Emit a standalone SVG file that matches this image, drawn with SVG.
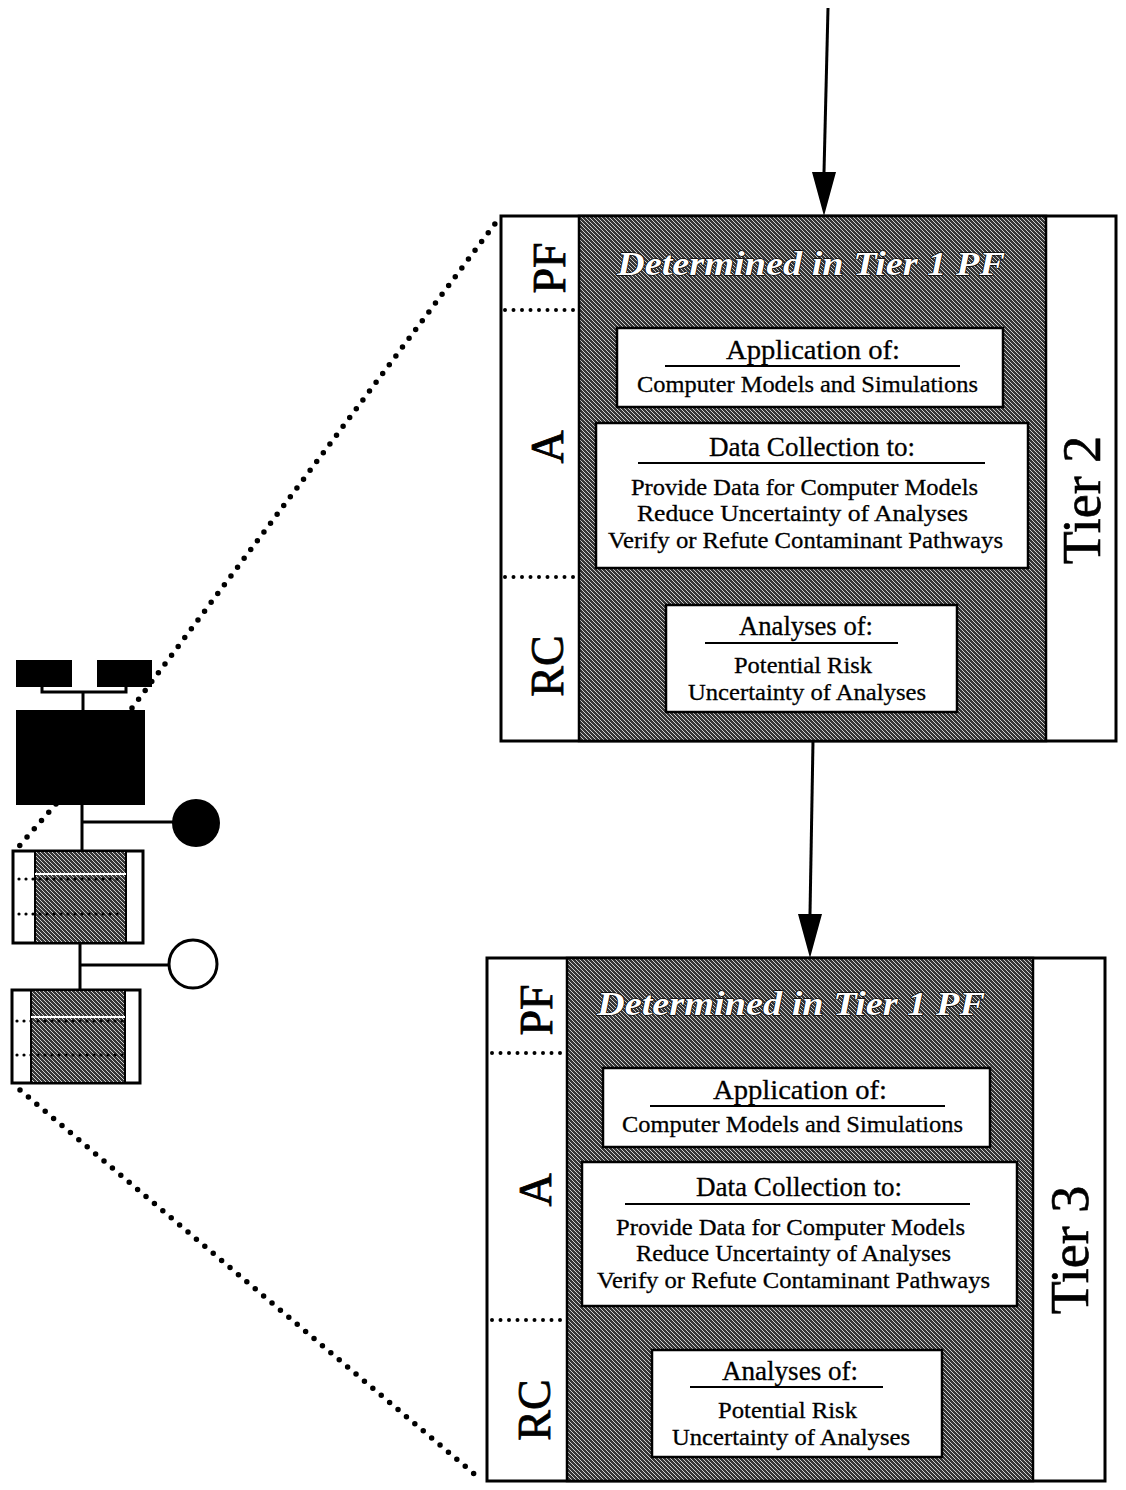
<svg xmlns="http://www.w3.org/2000/svg" width="1126" height="1490" viewBox="0 0 1126 1490">
<defs>
<pattern id="hatch" width="4" height="4" patternUnits="userSpaceOnUse">
<rect width="4" height="4" fill="#363636"/>
<path d="M-1,-1 l2,2 M0,0 l4,4 M3,3 l2,2" stroke="#cfcfcf" stroke-width="1"/>
</pattern>
</defs>
<style>
.outer{fill:#fff;stroke:#000;stroke-width:3}
.shade{fill:url(#hatch);stroke:#000;stroke-width:2.5}
.inner{fill:#fff;stroke:#000;stroke-width:2.5}
.ul{stroke:#000;stroke-width:2}
.dots{stroke:#000;stroke-width:4;stroke-linecap:round;stroke-dasharray:0 8.5;fill:none}
.bigdots{stroke:#000;stroke-width:5.5;stroke-linecap:round;stroke-dasharray:0 11;fill:none}
.smalldots{stroke:#000;stroke-width:3.2;stroke-linecap:round;stroke-dasharray:0 7;fill:none}
.t{font-family:"Liberation Serif",serif;fill:#000;stroke:#000;stroke-width:0.3}
.title{font-size:27px}
.body{font-size:24px}
.lab{font-size:46px;text-anchor:middle;stroke-width:0.8}
.tier{font-size:54px;text-anchor:middle;stroke-width:0.6}
.det{font-family:"Liberation Serif",serif;font-style:italic;font-weight:bold;font-size:34px;fill:#fff;stroke:#000;stroke-width:1.4;paint-order:stroke}
.line{stroke:#000;stroke-width:3;fill:none}
</style>

<g id="connectors">
<line x1="828" y1="8" x2="824" y2="172" class="line"/>
<path d="M812,172 L836,172 L824,216 Z" fill="#000"/>
<line x1="813" y1="741" x2="810" y2="914" class="line"/>
<path d="M798,914 L822,914 L810,958 Z" fill="#000"/>
<line x1="132" y1="708" x2="500" y2="217" class="bigdots"/>
<line x1="56" y1="804" x2="14" y2="852" class="bigdots"/>
<line x1="20" y1="1090" x2="479" y2="1478" class="bigdots"/>
</g>

<g id="tier2">
<rect x="501" y="216" width="615" height="525" class="outer"/>
<rect x="579" y="216" width="467" height="525" class="shade"/>
<line x1="505" y1="310" x2="578" y2="310" class="dots"/>
<line x1="505" y1="577" x2="578" y2="577" class="dots"/>
<text class="t lab" transform="translate(565,268) rotate(-90)">PF</text>
<text class="t lab" transform="translate(563,447) rotate(-90)">A</text>
<text class="t lab" transform="translate(563,666) rotate(-90)">RC</text>
<text class="t tier" transform="translate(1100,500) rotate(-90)">Tier 2</text>
<text class="det" x="617" y="275" textLength="388" lengthAdjust="spacingAndGlyphs">Determined in Tier 1 PF</text>
<g id="t2-app">
<rect x="617" y="328" width="386" height="79" class="inner"/>
<text class="t title" x="726" y="359" textLength="174" lengthAdjust="spacingAndGlyphs">Application of:</text>
<line x1="665" y1="366" x2="960" y2="366" class="ul"/>
<text class="t body" x="637" y="392" textLength="341" lengthAdjust="spacingAndGlyphs">Computer Models and Simulations</text>
</g>
<g id="t2-data">
<rect x="596" y="423" width="432" height="145" class="inner"/>
<text class="t title" x="709" y="456" textLength="206" lengthAdjust="spacingAndGlyphs">Data Collection to:</text>
<line x1="638" y1="463" x2="985" y2="463" class="ul"/>
<text class="t body" x="631" y="495" textLength="347" lengthAdjust="spacingAndGlyphs">Provide Data for Computer Models</text>
<text class="t body" x="637" y="521" textLength="331" lengthAdjust="spacingAndGlyphs">Reduce Uncertainty of Analyses</text>
<text class="t body" x="608" y="548" textLength="395" lengthAdjust="spacingAndGlyphs">Verify or Refute Contaminant Pathways</text>
</g>
<g id="t2-rc">
<rect x="666" y="605" width="291" height="107" class="inner"/>
<text class="t title" x="739" y="635" textLength="134" lengthAdjust="spacingAndGlyphs">Analyses of:</text>
<line x1="705" y1="643" x2="898" y2="643" class="ul"/>
<text class="t body" x="734" y="673" textLength="138" lengthAdjust="spacingAndGlyphs">Potential Risk</text>
<text class="t body" x="688" y="700" textLength="238" lengthAdjust="spacingAndGlyphs">Uncertainty of Analyses</text>
</g>
</g>

<g id="tier3">
<rect x="487" y="958" width="618" height="523" class="outer"/>
<rect x="567" y="958" width="466" height="523" class="shade"/>
<line x1="492" y1="1053" x2="566" y2="1053" class="dots"/>
<line x1="492" y1="1320" x2="566" y2="1320" class="dots"/>
<text class="t lab" transform="translate(552,1010) rotate(-90)">PF</text>
<text class="t lab" transform="translate(551,1190) rotate(-90)">A</text>
<text class="t lab" transform="translate(550,1410) rotate(-90)">RC</text>
<text class="t tier" transform="translate(1088,1250) rotate(-90)">Tier 3</text>
<text class="det" x="597" y="1015" textLength="388" lengthAdjust="spacingAndGlyphs">Determined in Tier 1 PF</text>
<g id="t3-app">
<rect x="603" y="1068" width="387" height="79" class="inner"/>
<text class="t title" x="713" y="1099" textLength="174" lengthAdjust="spacingAndGlyphs">Application of:</text>
<line x1="650" y1="1106" x2="945" y2="1106" class="ul"/>
<text class="t body" x="622" y="1132" textLength="341" lengthAdjust="spacingAndGlyphs">Computer Models and Simulations</text>
</g>
<g id="t3-data">
<rect x="582" y="1162" width="435" height="144" class="inner"/>
<text class="t title" x="696" y="1196" textLength="206" lengthAdjust="spacingAndGlyphs">Data Collection to:</text>
<line x1="625" y1="1204" x2="970" y2="1204" class="ul"/>
<text class="t body" x="616" y="1235" textLength="349" lengthAdjust="spacingAndGlyphs">Provide Data for Computer Models</text>
<text class="t body" x="636" y="1261" textLength="315" lengthAdjust="spacingAndGlyphs">Reduce Uncertainty of Analyses</text>
<text class="t body" x="597" y="1288" textLength="393" lengthAdjust="spacingAndGlyphs">Verify or Refute Contaminant Pathways</text>
</g>
<g id="t3-rc">
<rect x="652" y="1350" width="290" height="107" class="inner"/>
<text class="t title" x="722" y="1380" textLength="136" lengthAdjust="spacingAndGlyphs">Analyses of:</text>
<line x1="690" y1="1387" x2="883" y2="1387" class="ul"/>
<text class="t body" x="718" y="1418" textLength="139" lengthAdjust="spacingAndGlyphs">Potential Risk</text>
<text class="t body" x="672" y="1445" textLength="238" lengthAdjust="spacingAndGlyphs">Uncertainty of Analyses</text>
</g>
</g>

<g id="overview">
<g id="ov-links" stroke="#000" stroke-width="3" fill="none">
<path d="M42,686 V692 H126 V686"/>
<line x1="83" y1="692" x2="83" y2="710"/>
<line x1="82" y1="805" x2="82" y2="850"/>
<line x1="82" y1="822" x2="173" y2="822"/>
<line x1="80" y1="943" x2="80" y2="990"/>
<line x1="80" y1="965" x2="169" y2="965"/>
</g>
<rect id="ov-a" x="16" y="660" width="56" height="27" fill="#000"/>
<rect id="ov-b" x="97" y="660" width="55" height="27" fill="#000"/>
<rect id="ov-c" x="16" y="710" width="129" height="95" fill="#000"/>
<circle id="ov-d" cx="196" cy="823" r="24" fill="#000"/>
<circle id="ov-e" cx="193" cy="964" r="24" fill="#fff" stroke="#000" stroke-width="3"/>
<g id="ov-tier2">
<rect x="13" y="851" width="130" height="92" class="outer"/>
<rect x="35" y="851" width="91" height="92" fill="url(#hatch)" stroke="#000" stroke-width="2"/>
<line x1="35" y1="874" x2="126" y2="874" stroke="#fff" stroke-width="2"/>
<line x1="19" y1="879" x2="124" y2="879" class="smalldots"/>
<line x1="19" y1="914" x2="124" y2="914" class="smalldots"/>
</g>
<g id="ov-tier3">
<rect x="12" y="990" width="128" height="93" class="outer"/>
<rect x="31" y="990" width="94" height="93" fill="url(#hatch)" stroke="#000" stroke-width="2"/>
<line x1="31" y1="1017" x2="125" y2="1017" stroke="#fff" stroke-width="2"/>
<line x1="17" y1="1021" x2="123" y2="1021" class="smalldots"/>
<line x1="17" y1="1055" x2="123" y2="1055" class="smalldots"/>
</g>
</g>
</svg>
